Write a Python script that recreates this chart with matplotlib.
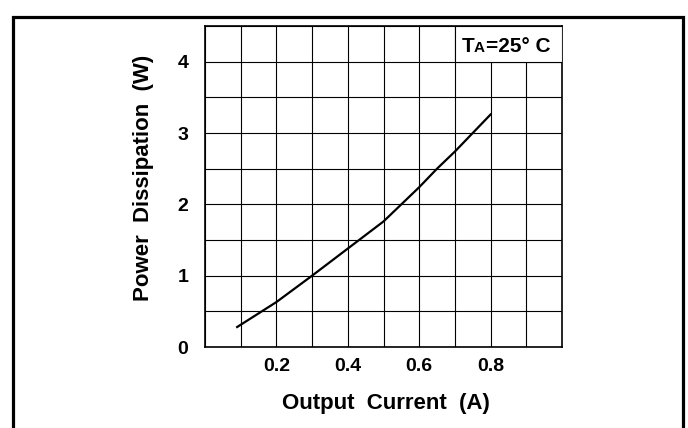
import numpy as np
import matplotlib.pyplot as plt
from matplotlib.patches import Rectangle
from matplotlib.transforms import offset_copy

plt.rcParams['font.family'] = ['Liberation Sans', 'DejaVu Sans']
plt.rcParams['font.weight'] = 'bold'

# curve
current = [0.09, 0.2, 0.3, 0.4, 0.5, 0.55, 0.6, 0.65, 0.7, 0.75, 0.8]
power = [0.28, 0.63, 1.0, 1.38, 1.76, 2.0, 2.24, 2.5, 2.74, 3.0, 3.26]

x_ticks = [0.2, 0.4, 0.6, 0.8]
y_ticks = [0, 1, 2, 3, 4]

fig = plt.figure(figsize=(6.88, 4.28), dpi=100)
ax = fig.add_axes([205 / 688, 1 - 347 / 428, 357 / 688, 321 / 428])

ax.set_xlim(0, 1.0)
ax.set_ylim(0, 4.5)
ax.set_xticks(x_ticks)
ax.set_xticklabels([f"{v:.1f}" for v in x_ticks])
ax.set_yticks(y_ticks)
ax.set_xticks(np.arange(0, 1.01, 0.1), minor=True)
ax.set_yticks(np.arange(0, 4.51, 0.5), minor=True)
ax.tick_params(which='both', length=0, labelsize=14)
ax.tick_params(axis='x', pad=8)
ax.tick_params(axis='y', pad=12)
ax.grid(which='both', color='black', lw=0.8)
for s in ax.spines.values():
    s.set_linewidth(1.2)

ax.plot(current, power, color='black', lw=1.6, zorder=3)

# box for the ambient temperature note
ax.add_patch(Rectangle((0.7, 4.0), 0.3, 0.5, facecolor='white',
                       edgecolor='black', lw=0.8, zorder=4))
note_x, note_y = 0.72, 4.13
ax.text(note_x, note_y, "T", fontsize=15, va='baseline', zorder=5)
ax.text(note_x, note_y, "A", fontsize=11, va='baseline', zorder=5,
        transform=offset_copy(ax.transData, fig=fig, x=12, y=0, units='dots'))
ax.text(note_x, note_y, "=25° C", fontsize=15, va='baseline', zorder=5,
        transform=offset_copy(ax.transData, fig=fig, x=24, y=0, units='dots'))

fig.text(386 / 688, 1 - 403 / 428, "Output  Current  (A)", fontsize=16,
         ha='center', va='center')
fig.text(144 / 688, 1 - 178 / 428, "Power  Dissipation  (W)", fontsize=16,
         rotation=90, ha='center', va='center')

# outer frame, bottom edge runs off the image
fig.add_artist(Rectangle((12.5 / 688, -0.2), 670 / 688, 1.2 - 17 / 428,
                         transform=fig.transFigure, fill=False, edgecolor='black',
                         lw=2.3, clip_on=False))

fig.savefig("out.png", dpi=100)
